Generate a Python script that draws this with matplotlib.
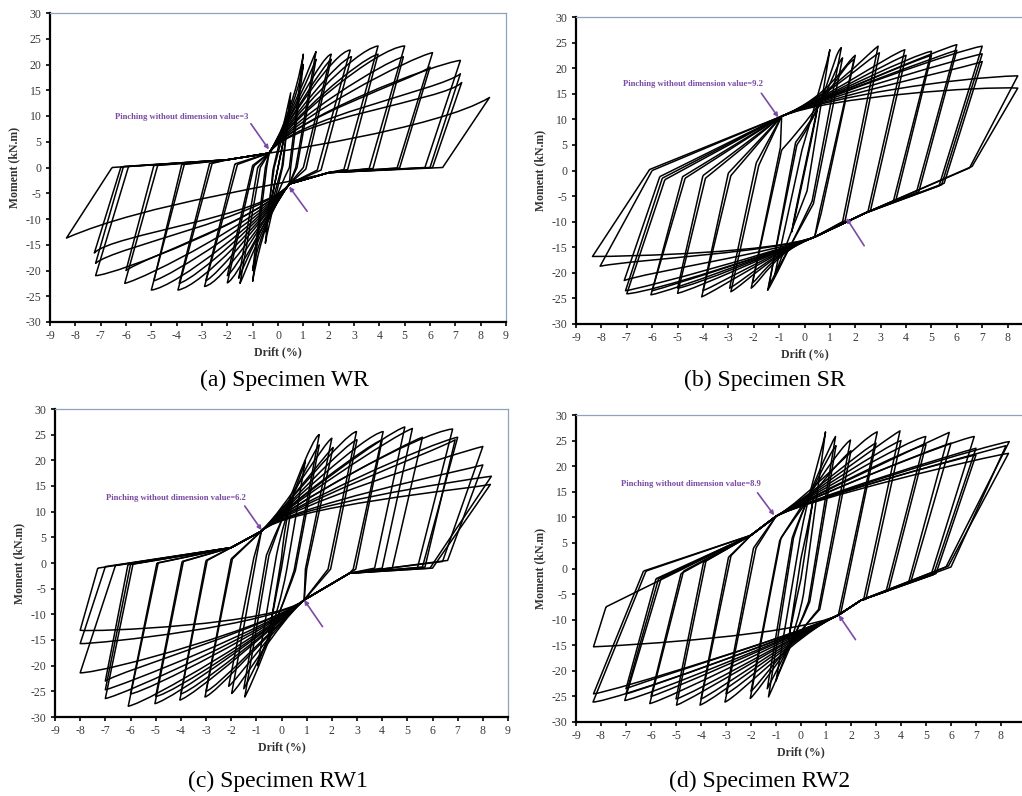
import matplotlib
matplotlib.use("Agg")
import matplotlib.pyplot as plt
from matplotlib.path import Path
from matplotlib.patches import PathPatch

plt.rcParams["axes.unicode_minus"] = False

# ---------------- Specimen WR ----------------
# positive half: peak, reload knee, end of unloading
wr_dp  = [0.25, 0.5, 0.5, 1.0, 1.0, 1.5, 1.5, 2.1, 2.1, 2.85, 2.9, 3.95, 3.95, 5.0, 4.95, 6.1, 6.0, 7.2, 7.2, 7.25, 8.35]
wr_mp  = [6, 13, 14.5, 22, 20, 22.5, 21, 22, 21, 22.8, 21.5, 23.6, 22, 23.6, 21.5, 22.3, 19.5, 20.8, 18.2, 16.5, 13.6]
wr_kpx = [0.2, 0.45, 0.45, 0.9, 0.9, 1.3, 1.35, 1.7, 1.8, 2.2, 2.4, 3.0, 3.2, 3.9, 4.2, 5.3, 5.3, 6.2, 6.4, 6.6, 6.3]
wr_kpy = [5, 11, 13, 19, 17, 20.5, 19, 21.5, 20, 22.5, 21, 22.8, 21, 23.2, 20.5, 21.5, 17, 20.2, 15, 13, 7.5]
wr_upx = [0.0, 0.15, 0.2, 0.45, 0.5, 0.7, 0.75, 1.0, 1.1, 1.55, 1.7, 2.6, 2.75, 3.6, 3.75, 4.7, 4.8, 5.8, 6.0, 6.1, 6.5]
wr_upy = [0, 0, 0.5, 0, 0, 0, 0, 0, -0.3, -0.5, -0.5, -0.4, -0.4, -0.2, -0.2, -0.1, -0.1, 0, 0, 0, 0]
# negative half
wr_dn  = [-0.25, -0.5, -0.5, -1.0, -1.0, -1.5, -1.55, -2.0, -2.0, -2.9, -2.85, -3.95, -3.9, -5.0, -4.9, -6.05, -6.0, -7.2, -7.2, -7.25, -8.35]
wr_mn  = [-6, -12.5, -14.7, -22.1, -20, -22.5, -21.5, -22.4, -21, -23.1, -22, -23.8, -22.5, -23.8, -22, -22.5, -20, -21, -18.6, -16.6, -13.7]
wr_knx = [-0.2, -0.45, -0.45, -0.9, -0.9, -1.3, -1.35, -1.6, -1.7, -2.2, -2.4, -3.0, -3.2, -4.0, -4.2, -5.2, -5.3, -6.4, -6.5, -6.6, -5.2]
wr_kny = [-5, -10.5, -13, -19, -17, -20.5, -19, -21.5, -20, -22.5, -21, -23, -21.5, -23.2, -21, -21.5, -17.5, -20.8, -15.5, -13, -6.9]
wr_unx = [0.0, -0.15, -0.2, -0.45, -0.5, -0.7, -0.8, -0.95, -1.0, -1.6, -1.7, -2.6, -2.7, -3.7, -3.8, -4.75, -4.9, -5.9, -6.1, -6.2, -6.55]
wr_uny = [0, 0, -0.5, 0, 0, 0, 0, 0.3, 0.4, 0.6, 0.7, 0.8, 0.8, 0.6, 0.6, 0.4, 0.4, 0.2, 0.2, 0.1, 0]
# pinched band / centre points
wr_band_up_x = [-2.0, -0.35, 0.5]
wr_band_up_y = [1.5, 2.8, 9.5]
wr_band_dn_x = [2.0, 0.45, -0.5]
wr_band_dn_y = [-1.0, -3.2, -9.5]

# ---------------- Specimen SR ----------------
sr_dp  = [0.5, 1.0, 1.45, 1.5, 1.95, 2.0, 2.9, 2.95, 3.95, 4.0, 5.0, 5.0, 6.0, 6.0, 7.0, 7.0, 7.0, 8.4, 8.4]
sr_mp  = [12, 23.6, 24, 22, 21.7, 22.5, 24.3, 23, 23.6, 22.5, 23.3, 22.5, 24.6, 23.5, 24.3, 22.8, 21.3, 18.5, 16.1]
sr_kpx = [0.45, 0.85, 1.1, 1.2, 1.5, 1.6, 2.3, 2.4, 3.3, 3.4, 4.2, 4.3, 5.2, 5.3, 6.0, 6.2, 6.3, 6.0, 7.0]
sr_kpy = [10, 20, 22.5, 20.5, 20.5, 21, 22, 21.5, 22.5, 21.5, 22.5, 21.5, 23.5, 22.5, 23.5, 22, 20, 18.2, 16.5]
sr_upx = [-0.1, 0.1, 0.3, 0.35, 0.6, 0.65, 1.5, 1.6, 2.5, 2.6, 3.5, 3.6, 4.4, 4.5, 5.3, 5.4, 5.5, 6.5, 6.6]
sr_upy = [-2, -4, -6, -6.5, -8, -8.5, -10, -9.8, -8, -7.8, -6, -5.8, -4.4, -4.2, -3, -2.8, -2.5, 0.5, 0.8]
sr_dn  = [-0.5, -1.2, -1.45, -1.4, -2.1, -2.05, -2.9, -2.95, -4.05, -4.0, -5.0, -5.0, -6.05, -6.0, -7.0, -7.05, -7.1, -8.05, -8.35]
sr_mn  = [-12, -21, -23.4, -22.5, -23, -22, -23.7, -23, -24.7, -23.5, -24, -23, -24.3, -23.5, -24.1, -23.5, -21.5, -18.7, -16.8]
sr_knx = [-0.45, -1.0, -1.2, -1.2, -1.6, -1.7, -2.3, -2.4, -3.3, -3.3, -4.2, -4.3, -5.2, -5.2, -6.0, -6.2, -6.3, -6.5, -6.8]
sr_kny = [-10, -18, -21.5, -20.5, -21, -20.5, -22, -21.5, -23, -22, -23, -22.5, -23.5, -22.5, -23.8, -22.8, -20, -17.3, -16.8]
sr_unx = [0.1, -0.1, -0.3, -0.35, -0.9, -0.95, -1.8, -1.9, -2.9, -3.0, -3.9, -4.0, -4.7, -4.8, -5.5, -5.6, -5.7, -6.0, -6.1]
sr_uny = [2, 4, 5, 5.5, 4, 4.5, 1, 1.5, -1, -0.5, -1.5, -1.0, -1.5, -1.2, -1.8, -1.5, -1.2, 0, 0.2]
sr_band_up_x = [-0.9, 1.0]
sr_band_up_y = [10.6, 14.5]
sr_band_dn_x = [2.4, 0.4, -1.2]
sr_band_dn_y = [-8.3, -13.0, -16.0]

# ---------------- Specimen RW1 ----------------
rw1_dp  = [0.5, 0.95, 1.5, 1.5, 2.0, 2.05, 2.98, 3.0, 4.04, 4.0, 4.9, 5.2, 5.6, 6.8, 7.0, 6.9, 8.0, 8.0, 8.34, 8.3]
rw1_mp  = [14, 20, 25, 23, 24.3, 22.5, 25.6, 24, 25.6, 24, 26.5, 26.2, 24.5, 26.1, 24.5, 24.0, 22.7, 19.1, 16.9, 15.3]
rw1_kpx = [0.45, 0.85, 1.2, 1.3, 1.7, 1.8, 2.5, 2.6, 3.3, 3.4, 4.2, 4.5, 5.0, 5.5, 6.0, 6.2, 7.0, 7.2, 7.0, 7.5]
rw1_kpy = [12, 18, 24.5, 22, 23.5, 21.5, 25.2, 23.5, 25, 23, 25.5, 25, 23.5, 25.5, 23.5, 22, 21.5, 18, 16, 14.5]
rw1_upx = [0.0, 0.2, 0.5, 0.55, 0.95, 1.0, 1.85, 1.95, 2.85, 2.95, 3.7, 4.0, 4.4, 5.4, 5.6, 5.7, 6.4, 6.6, 5.9, 6.0]
rw1_upy = [-1, -1.5, -1.5, -1.5, -1.2, -1.2, -1.2, -1.2, -1.2, -1.2, -1.0, -1.0, -1.0, -1.0, -0.8, -0.8, 0.3, 0.5, -1.0, -1.0]
rw1_dn  = [-0.5, -0.95, -1.46, -1.5, -1.98, -2.1, -3.04, -3.0, -4.04, -4.0, -5.03, -5.0, -6.09, -6.0, -7.0, -7.0, -7.0, -8.0, -8.0, -8.0]
rw1_mn  = [-14, -20, -26.1, -24.5, -25.4, -24, -26.1, -25, -26.7, -25.5, -27.4, -26, -27.9, -25.5, -26.4, -24.7, -23, -21.4, -15.7, -13.1]
rw1_knx = [-0.45, -0.85, -1.25, -1.3, -1.7, -1.8, -2.6, -2.6, -3.5, -3.5, -4.3, -4.3, -5.2, -5.3, -6.3, -6.4, -6.4, -6.9, -7.3, -7.5]
rw1_kny = [-12, -18, -24.5, -23, -24.5, -23, -25.5, -24.5, -26, -25, -26.5, -25.5, -27, -25, -25.8, -24, -21, -21.3, -15.8, -13.5]
rw1_unx = [0.0, -0.2, -0.5, -0.6, -1.0, -1.1, -1.95, -2.0, -2.95, -3.0, -3.9, -3.95, -4.9, -4.95, -5.9, -6.0, -6.1, -6.6, -7.0, -7.3]
rw1_uny = [1, 1.5, 1.5, 1.5, 1.0, 1.0, 0.8, 0.8, 0.5, 0.5, 0.3, 0.3, 0, 0, -0.2, -0.3, -0.3, -0.5, -0.7, -1.0]
rw1_band_up_x = [-2.0, -0.8, 0.2]
rw1_band_up_y = [3.0, 6.2, 11.0]
rw1_band_dn_x = [2.7, 0.9, -0.2]
rw1_band_dn_y = [-2.0, -7.2, -12.0]

# ---------------- Specimen RW2 ----------------
rw2_dp  = [0.5, 0.98, 1.38, 1.4, 1.98, 2.0, 3.05, 3.0, 3.96, 4.0, 4.99, 5.0, 5.93, 6.0, 6.93, 7.0, 7.0, 8.33, 8.3, 8.2]
rw2_mp  = [14, 26.7, 25.8, 24, 25.1, 23, 26.7, 24.5, 26.9, 25, 25.8, 24.2, 26.6, 24.5, 25.8, 23.5, 22.2, 24.8, 22.5, 24]
rw2_kpx = [0.45, 0.9, 1.2, 1.2, 1.6, 1.7, 2.4, 2.5, 3.3, 3.4, 4.2, 4.3, 5.2, 5.3, 6.0, 6.2, 6.3, 7.8, 7.5, 7.8]
rw2_kpy = [12, 24, 24.5, 23, 24, 22, 25.5, 23.5, 25, 24, 25, 23.5, 25, 23.5, 25, 22.5, 21.5, 24.6, 22, 23.5]
rw2_upx = [0.0, 0.1, 0.3, 0.35, 0.7, 0.75, 1.5, 1.6, 2.5, 2.6, 3.4, 3.5, 4.3, 4.4, 5.2, 5.3, 5.4, 5.8, 5.9, 6.0]
rw2_upy = [-2, -5, -6.5, -6.5, -8, -8, -9, -8.5, -6.2, -6, -4.5, -4.3, -2.8, -2.5, -1.3, -1.2, -1, 0.3, 0.5, 0.3]
rw2_dn  = [-0.5, -1.0, -1.3, -1.35, -2.03, -2.0, -3.04, -3.0, -4.04, -4.0, -4.98, -5.0, -6.05, -6.0, -7.05, -7.0, -7.0, -8.32, -8.3, -8.3]
rw2_mn  = [-14, -22, -25.1, -23.5, -25.4, -24, -26.1, -24.5, -26.7, -25.5, -26.7, -25.5, -26.4, -25, -25.8, -24.5, -23.5, -26.1, -15.3, -24.5]
rw2_knx = [-0.45, -0.9, -1.15, -1.2, -1.7, -1.75, -2.5, -2.5, -3.4, -3.5, -4.3, -4.3, -5.3, -5.3, -6.2, -6.2, -6.3, -7.5, -6.8, -7.5]
rw2_kny = [-12, -20, -23.5, -22, -24, -23, -25, -23.5, -25.5, -24.5, -25.5, -24.5, -25.5, -24, -25, -23.5, -22, -26, -15, -24]
rw2_unx = [0.0, -0.1, -0.3, -0.35, -0.8, -0.85, -1.8, -1.9, -2.8, -2.9, -3.8, -3.9, -4.7, -4.8, -5.6, -5.7, -5.8, -6.2, -7.8, -6.3]
rw2_uny = [2, 4, 6, 6, 6, 5.5, 4, 4, 2.5, 2.2, 1.5, 1.2, -0.5, -1, -2, -2, -2, -0.5, -7.5, -0.5]
rw2_band_up_x = [-2.0, -1.0, 0.2]
rw2_band_up_y = [6.5, 10.2, 13.5]
rw2_band_dn_x = [2.4, 1.5, -0.2]
rw2_band_dn_y = [-6.2, -9.1, -13.0]

captions = ["(a) Specimen WR", "(b) Specimen SR", "(c) Specimen RW1", "(d) Specimen RW2"]
pinch_labels = ["Pinching without dimension value=3",
                "Pinching without dimension value=9.2",
                "Pinching without dimension value=6.2",
                "Pinching without dimension value=8.9"]
# label centre, upper arrow (from, to), lower arrow (from, to) in data units
label_xy = [(-3.8, 9.9), (-4.4, 17.0), (-4.2, 12.6), (-4.4, 16.5)]
arrow_up = [((-1.07, 8.5), (-0.36, 3.5)), ((-1.7, 15.1), (-1.03, 10.4)),
            ((-1.46, 11.1), (-0.79, 6.4)), ((-1.74, 14.8), (-1.07, 10.4))]
arrow_dn = [((1.15, -8.5), (0.44, -3.7)), ((2.35, -14.7), (1.65, -9.3)),
            ((1.63, -12.4), (0.9, -7.2)), ((2.18, -13.9), (1.51, -9.1))]
x_tick_max = [9, 8, 9, 8]

PURPLE = "#7a4ba3"
SERIF = ["Liberation Serif", "DejaVu Serif"]


def add_reload(verts, codes, band_x, band_y, knee, peak, going_up):
    # pinched band points; the last one bends the curve instead of making a corner
    used = []
    for bx, by in zip(band_x, band_y):
        last = used[-1][0] if used else verts[-1][0]
        if going_up and last < bx < knee[0] and by < knee[1]:
            used.append((bx, by))
        if not going_up and last > bx > knee[0] and by > knee[1]:
            used.append((bx, by))
    for p in used[:-1]:
        verts.append(p)
        codes.append(Path.LINETO)
    if used:
        verts += [used[-1], knee, peak]
        codes += [Path.CURVE4] * 3
    else:
        verts += [knee, peak]
        codes += [Path.CURVE3] * 2


def loop_path(i, dp, mp, kpx, kpy, upx, upy, dn, mn, knx, kny, unx, uny, band_up, band_dn):
    verts = [(unx[i], uny[i])]
    codes = [Path.MOVETO]
    add_reload(verts, codes, band_up[0], band_up[1], (kpx[i], kpy[i]), (dp[i], mp[i]), True)
    verts.append((upx[i], upy[i]))
    codes.append(Path.LINETO)
    add_reload(verts, codes, band_dn[0], band_dn[1], (knx[i], kny[i]), (dn[i], mn[i]), False)
    verts.append((unx[i], uny[i]))
    codes.append(Path.LINETO)
    return Path(verts, codes)


specimens = [
    (wr_dp, wr_mp, wr_kpx, wr_kpy, wr_upx, wr_upy, wr_dn, wr_mn, wr_knx, wr_kny, wr_unx, wr_uny,
     (wr_band_up_x, wr_band_up_y), (wr_band_dn_x, wr_band_dn_y)),
    (sr_dp, sr_mp, sr_kpx, sr_kpy, sr_upx, sr_upy, sr_dn, sr_mn, sr_knx, sr_kny, sr_unx, sr_uny,
     (sr_band_up_x, sr_band_up_y), (sr_band_dn_x, sr_band_dn_y)),
    (rw1_dp, rw1_mp, rw1_kpx, rw1_kpy, rw1_upx, rw1_upy, rw1_dn, rw1_mn, rw1_knx, rw1_kny, rw1_unx, rw1_uny,
     (rw1_band_up_x, rw1_band_up_y), (rw1_band_dn_x, rw1_band_dn_y)),
    (rw2_dp, rw2_mp, rw2_kpx, rw2_kpy, rw2_upx, rw2_upy, rw2_dn, rw2_mn, rw2_knx, rw2_kny, rw2_unx, rw2_uny,
     (rw2_band_up_x, rw2_band_up_y), (rw2_band_dn_x, rw2_band_dn_y)),
]

W, H = 1022, 796
fig = plt.figure(figsize=(W / 100, H / 100), dpi=100)

# axes boxes in pixels: left, top, right, bottom
boxes = [(50, 13, 506, 322), (576, 17, 1033, 324), (55, 409, 508, 717), (576, 415, 1026, 722)]
cap_pos = [(284, 380), (765, 380), (278, 781), (760, 781)]

for k, (l, t, r, b) in enumerate(boxes):
    ax = fig.add_axes([l / W, 1 - b / H, (r - l) / W, (b - t) / H])
    spec = specimens[k]
    for i in range(len(spec[0])):
        ax.add_patch(PathPatch(loop_path(i, *spec), fill=False, edgecolor="black",
                               lw=1.1, joinstyle="round"))

    ax.set_xlim(-9, 9)
    ax.set_ylim(-30, 30)
    ax.set_xticks(range(-9, x_tick_max[k] + 1))
    ax.set_yticks(range(-30, 31, 5))
    for side in ["left", "bottom"]:
        ax.spines[side].set_linewidth(1.6)
        ax.spines[side].set_color("black")
    for side in ["top", "right"]:
        ax.spines[side].set_linewidth(0.9)
        ax.spines[side].set_color("#8fa3bf")
    ax.tick_params(direction="out", length=3, width=1.2, labelsize=8.5, labelcolor="#3a3a3a", pad=3)
    for lab in ax.get_xticklabels() + ax.get_yticklabels():
        lab.set_family(SERIF)
    ax.set_xlabel("Drift (%)", fontsize=8.5, fontweight="bold", family=SERIF, color="#333333", labelpad=3)
    ax.set_ylabel("Moment (kN.m)", fontsize=8.5, fontweight="bold", family=SERIF, color="#333333", labelpad=4)

    ax.text(label_xy[k][0], label_xy[k][1], pinch_labels[k], fontsize=6.2, fontweight="bold",
            family=SERIF, color=PURPLE, ha="center", va="center")
    for (x0, y0), (x1, y1) in (arrow_up[k], arrow_dn[k]):
        ax.annotate("", xy=(x1, y1), xytext=(x0, y0),
                    arrowprops=dict(arrowstyle="-|>", color=PURPLE, lw=1.2, mutation_scale=6,
                                    shrinkA=0, shrinkB=0))

    fig.text(cap_pos[k][0] / W, 1 - cap_pos[k][1] / H, captions[k], fontsize=17,
             family=SERIF, ha="center", va="center")

fig.savefig("out.png", dpi=100)
